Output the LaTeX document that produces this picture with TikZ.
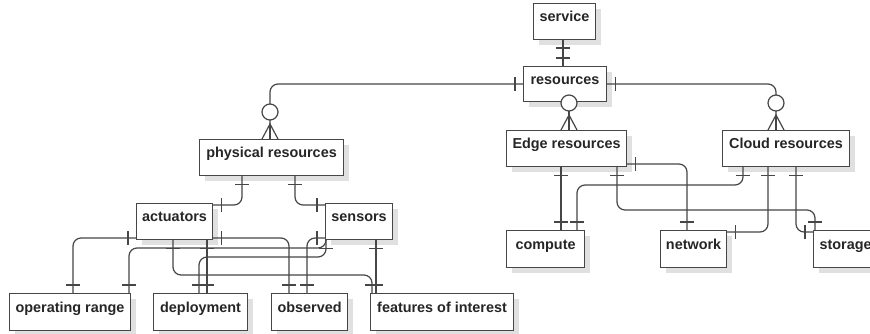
\documentclass[tikz,border=0pt]{standalone}
\usepackage{fontspec}
\newfontfamily\erfont{Liberation Sans}
\usetikzlibrary{decorations.markings,shadows}
\definecolor{linec}{HTML}{464646}
\definecolor{boxc}{HTML}{464646}
\definecolor{txtc}{HTML}{262626}
\newcommand\zmany[2]{%
  \path (#1,0 |- #2.north) coordinate (zmbase);
  \draw[erline, rounded corners=0pt] ([xshift=-8pt]zmbase) -- ([yshift=15pt]zmbase) -- ([xshift=8pt]zmbase);
  \draw[erline] (zmbase) -- ([yshift=15pt]zmbase);
  \draw[erline, fill=white] ([yshift=27pt]zmbase) circle[radius=8pt];
}
\begin{document}
\begin{tikzpicture}[x=1pt,y=-1pt,
  box/.style={draw=boxc, fill=white, line width=1.1pt, inner sep=0pt, anchor=north west,
    text height=5pt, text depth=5pt, text=txtc,
    font=\erfont\bfseries\fontsize{14.4}{17}\selectfont,
    drop shadow={shadow xshift=5pt, shadow yshift=-5pt, fill=black!12, opacity=1}},
  erline/.style={color=linec, line width=1.2pt, rounded corners=8pt},
  erbar/.style={postaction={decorate, decoration={markings, mark=at position #1 with {\draw[rounded corners=0pt, line width=1.2pt, color=linec] (0pt,-7pt) -- (0pt,7pt);}}}}
]
\fill[white] (0,0) rectangle (870,334);
\useasboundingbox (0,0) rectangle (870,334);
\clip (0,0) rectangle (870,334);

% boxes
\node[box, minimum width=62pt, minimum height=36pt] (serv) at (533,3) {service};
\node[box, minimum width=83pt, minimum height=35pt] (res) at (523,66) {resources};
\node[box, minimum width=144pt, minimum height=36pt] (phys) at (199,139) {physical resources};
\node[box, minimum width=120pt, minimum height=36pt] (edge) at (506,130) {Edge resources};
\node[box, minimum width=127pt, minimum height=36pt] (cloud) at (722,130) {Cloud resources};
\node[box, minimum width=78pt, minimum height=37pt] (comp) at (506,230) {compute};
\node[box, minimum width=66pt, minimum height=37pt] (net) at (660,230) {network};
\node[box, minimum width=64pt, minimum height=37pt] (stor) at (813,230) {storage};
\node[box, minimum width=76pt, minimum height=36pt] (act) at (136,203) {actuators};
\node[box, minimum width=67pt, minimum height=36pt] (sen) at (325,203) {sensors};
\node[box, minimum width=121pt, minimum height=37pt] (opr) at (9,293) {operating range};
\node[box, minimum width=94pt, minimum height=37pt] (dep) at (153,293) {deployment};
\node[box, minimum width=76pt, minimum height=37pt] (obs) at (271,293) {observed};
\node[box, minimum width=143pt, minimum height=37pt] (foi) at (370,293) {features of interest};

% top connectors
\draw[erline, erbar=8pt, erbar=-8pt] (563,0 |- serv.south) -- (563,0 |- res.north);
\draw[erline, erbar=8pt] (res.west |- 0,84) -- (270,84) -- (270,0 |- phys.north);
\draw[erline] (569,0 |- res.south) -- (569,0 |- edge.north);
\draw[erline, erbar=8pt] (res.east |- 0,84) -- (776,84) -- (776,0 |- cloud.north);

% physical resources
\draw[erline, erbar=8pt, erbar=-8pt] (242,0 |- phys.south) -- (242,205) -- (act.east |- 0,205);
\draw[erline, erbar=8pt, erbar=-8pt] (295,0 |- phys.south) -- (295,205) -- (sen.west |- 0,205);

% actuators
\draw[erline, erbar=8pt, erbar=-8pt] (act.west |- 0,238) -- (73,238) -- (73,0 |- opr.north);
\draw[erline, erbar=8pt, erbar=-8pt] (act.east |- 0,238) -- (289,238) -- (289,0 |- obs.north);
\draw[erline, erbar=8pt, erbar=-8pt] (173,0 |- act.south) -- (173,275) -- (372,275) -- (372,0 |- foi.north);
\draw[erline, erbar=8pt, erbar=-8pt] (207,0 |- act.south) -- (207,0 |- dep.north);

% sensors
\draw[erline, erbar=8pt, erbar=-8pt] (sen.west |- 0,238) -- (307,238) -- (307,0 |- obs.north);
\draw[erline, erbar=8pt, erbar=-8pt] (326,0 |- sen.south) -- (326,257) -- (199,257) -- (199,0 |- dep.north);
\draw[erline, erbar=-8pt] (326,0 |- sen.south) -- (326,248) -- (129,248) -- (129,0 |- opr.north);
\draw[erline, erbar=8pt, erbar=-8pt] (376,0 |- sen.south) -- (376,0 |- foi.north);

% edge / cloud
\draw[erline, erbar=8pt, erbar=-8pt] (561,0 |- edge.south) -- (561,0 |- comp.north);
\draw[erline, erbar=8pt, erbar=-8pt] (617,0 |- edge.south) -- (617,210) -- (815,210) -- (815,0 |- stor.north);
\draw[erline, erbar=8pt, erbar=-8pt] (edge.east |- 0,164) -- (687,164) -- (687,0 |- net.north);
\draw[erline, erbar=8pt, erbar=-8pt] (743,0 |- cloud.south) -- (743,185) -- (577,185) -- (577,0 |- comp.north);
\draw[erline, erbar=8pt, erbar=-8pt] (768,0 |- cloud.south) -- (768,232) -- (net.east |- 0,232);
\draw[erline, erbar=8pt, erbar=-8pt] (796,0 |- cloud.south) -- (796,232) -- (stor.west |- 0,232);

% zero-or-many ends
\zmany{270}{phys}
\zmany{569}{edge}
\zmany{776}{cloud}
\end{tikzpicture}
\end{document}
